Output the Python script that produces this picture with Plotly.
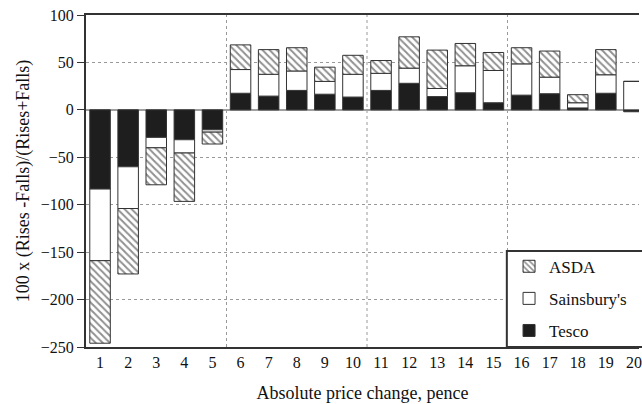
import plotly.graph_objects as go

categories = list(range(1, 21))
tesco = [-83.5, -60, -29, -31.5, -21, 17.5, 14.5, 20.5, 16.5, 13.5,
         20.5, 28, 14, 18, 7.5, 15.5, 17, 2, 17.5, -2]
sainsburys = [-75.5, -44, -11, -14, -2.5, 25, 23, 20.5, 13.5, 24,
              18, 16, 8.5, 28.5, 34, 33, 17.5, 5.5, 19.5, 30]
asda = [-87, -69, -39, -51, -12.5, 26, 26, 24.5, 15, 20,
        13.5, 33, 40.5, 23.5, 19, 17, 27.5, 8.5, 26.5, 0]
y_ticks = [-250, -200, -150, -100, -50, 0, 50, 100]
group_breaks = [5.5, 10.5, 15.5]

FONT = "Liberation Serif"
TXT = "#111111"
LINE = dict(color="#333333", width=1)
GRID = "#999999"

fig = go.Figure()
fig.add_trace(go.Bar(x=categories, y=tesco, name="Tesco", legendgroup="t", legendrank=3,
                     marker=dict(color="#1e1e1e", line=LINE)))
fig.add_trace(go.Bar(x=categories, y=sainsburys, name="Sainsbury's", legendgroup="s",
                     legendrank=2, marker=dict(color="white", line=LINE)))
fig.add_trace(go.Bar(x=categories, y=asda, name="ASDA", legendgroup="a", legendrank=1,
                     marker=dict(color="white", line=LINE,
                                 pattern=dict(shape="\\", fgcolor="#222222",
                                              bgcolor="white", size=5, solidity=0.4))))

for xb in group_breaks:
    fig.add_shape(type="line", xref="x", yref="paper", x0=xb, x1=xb, y0=0, y1=1,
                  line=dict(color=GRID, width=1, dash="3px,3px"), layer="below")

# legend frame (right side runs off the page like the reference)
fig.add_shape(type="rect", xref="paper", yref="paper", x0=0.761, x1=1.2, y0=0, y1=0.289,
              line=dict(color="#333333", width=2), fillcolor="white", layer="above")

fig.update_layout(
    width=642, height=404,
    margin=dict(l=86, r=0, t=15, b=57),
    paper_bgcolor="white", plot_bgcolor="white",
    barmode="relative", bargap=0.27,
    font=dict(family=FONT, size=16, color=TXT),
    showlegend=True,
    legend=dict(x=0.765, y=0.296, xanchor="left", yanchor="top",
                traceorder="grouped", tracegroupgap=7,
                bgcolor="rgba(0,0,0,0)", borderwidth=0,
                font=dict(family=FONT, size=17, color=TXT)),
    xaxis=dict(range=[0.5, 20.18], tickmode="array", tickvals=categories,
               ticks="", showgrid=False, zeroline=False, ticklabeloverflow="allow",
               showline=True, linecolor="#333333", linewidth=2, mirror=True,
               title=dict(text="Absolute price change, pence",
                          font=dict(family=FONT, size=18, color=TXT), standoff=16),
               tickfont=dict(family=FONT, size=16, color=TXT)),
    yaxis=dict(range=[-250, 100], tickmode="array", tickvals=y_ticks,
               ticks="outside", ticklen=7, tickcolor="#333333", tickwidth=1,
               showgrid=True, gridcolor=GRID, griddash="3px,3px", gridwidth=1,
               zeroline=True, zerolinecolor="#a0a0a0", zerolinewidth=1.5,
               showline=True, linecolor="#333333", linewidth=2,
               title=dict(text="100 x (Rises -Falls)/(Rises+Falls)",
                          font=dict(family=FONT, size=18, color=TXT), standoff=6),
               tickfont=dict(family=FONT, size=16, color=TXT)),
)

fig.write_html("out.html", config={"displayModeBar": False},
               post_script="document.body.style.margin='0';document.body.style.overflow='hidden';")
